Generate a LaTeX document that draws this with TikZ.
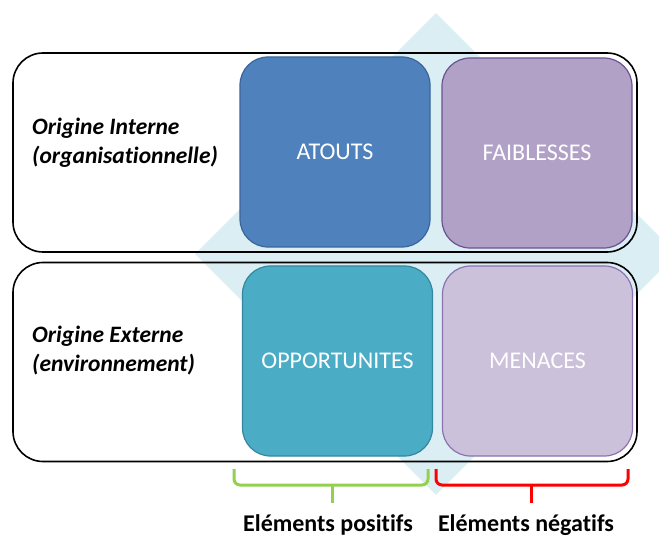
\documentclass[tikz,border=0pt]{standalone}
\usepackage{fontspec}
\setmainfont[Ligatures=NoCommon]{Carlito}
\usetikzlibrary{shapes.geometric}
\definecolor{fond}{HTML}{DAEEF3}
\definecolor{atoutfill}{HTML}{4F81BD}
\definecolor{atoutline}{HTML}{3A649A}
\definecolor{faiblfill}{HTML}{B2A1C7}
\definecolor{faiblline}{HTML}{6A5290}
\definecolor{opportfill}{HTML}{4BACC6}
\definecolor{opportline}{HTML}{34879E}
\definecolor{menacefill}{HTML}{CCC1DA}
\definecolor{menaceline}{HTML}{8C72B0}
\definecolor{positif}{HTML}{92D050}
\tikzstyle{row}=[rectangle,draw=black,line width=1.6pt,rounded corners=30pt,
  minimum width=624pt,minimum height=199pt,inner sep=0pt]
\tikzstyle{quadrant}=[rectangle,rounded corners=28pt,line width=1.2pt,
  minimum size=190pt,inner sep=0pt,text=white,font=\fontsize{24}{28}\selectfont]
\tikzstyle{origin}=[anchor=west,align=left,inner sep=0pt,
  font=\fontsize{23.5}{29}\selectfont\bfseries\itshape]
\tikzstyle{brace}=[line width=3pt,rounded corners=6pt]
\tikzstyle{bracelabel}=[inner sep=0pt,font=\fontsize{24}{28}\selectfont\bfseries]

\begin{document}
\begin{tikzpicture}[x=1pt,y=-1pt]
  \clip (0,0) rectangle (659,540);
  \node[diamond,fill=fond,minimum width=482pt,minimum height=482pt,inner sep=0pt]
    (back) at (436,254) {};
  \node[row] (R-int) at (325,152.5) {};
  \node[row] (R-ext) at (325,362) {};
  \foreach \name/\x/\y/\col/\text in {Q-at/335/152/atout/ATOUTS,
                                      Q-fa/537/153/faibl/FAIBLESSES,
                                      Q-op/337.5/361/opport/OPPORTUNITES,
                                      Q-me/537.5/361/menace/MENACES}
    \node[quadrant,fill=\col fill,draw=\col line] (\name) at (\x,\y) {\text};
  \node[origin] (L-int) at (32,143) {Origine Interne\\(organisationnelle)};
  \node[origin] (L-ext) at (32,351) {Origine Externe\\(environnement)};
  % accolades sous les colonnes
  \draw[brace,positif] (234,469) -- (234,485) -- (428,485) -- (428,469);
  \draw[brace,positif] (332,485) -- (332,503);
  \draw[brace,red] (436,469) -- (436,485) -- (628,485) -- (628,469);
  \draw[brace,red] (531,485) -- (531,503);
  \node[bracelabel] (B-pos) at (328,525) {Eléments positifs};
  \node[bracelabel] (B-neg) at (526,525) {Eléments négatifs};
\end{tikzpicture}
\end{document}
